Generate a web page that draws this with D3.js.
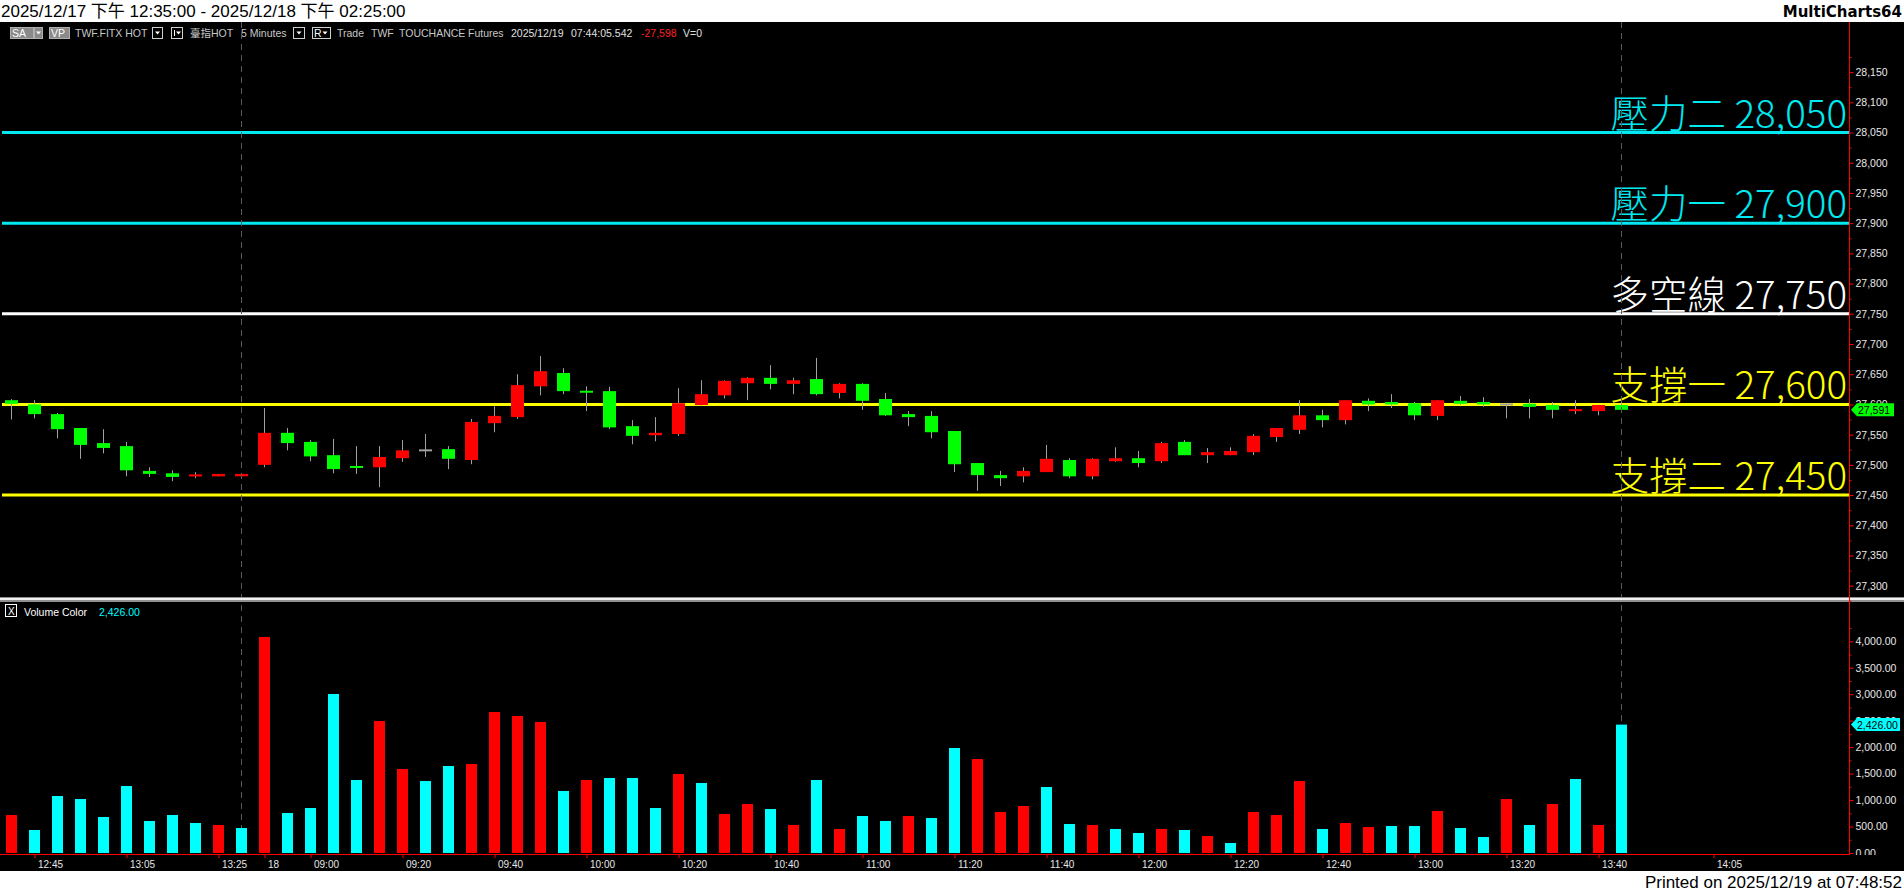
<!DOCTYPE html>
<html>
<head>
<meta charset="utf-8">
<script src="https://cdn.jsdelivr.net/npm/d3@7"></script>
<style>
  body { margin: 0; background: #fff; }
  svg { display: block; }
</style>
</head>
<body>
<svg width="1904" height="892"></svg>
<script>
// Step 1 (5 minute bars, 12/17 then 12/18)
var times = ["12:40","12:45","12:50","12:55","13:00","13:05","13:10","13:15","13:20","13:25","13:30",
  "08:50","08:55","09:00","09:05","09:10","09:15","09:20","09:25","09:30","09:35","09:40","09:45","09:50","09:55",
  "10:00","10:05","10:10","10:15","10:20","10:25","10:30","10:35","10:40","10:45","10:50","10:55",
  "11:00","11:05","11:10","11:15","11:20","11:25","11:30","11:35","11:40","11:45","11:50","11:55",
  "12:00","12:05","12:10","12:15","12:20","12:25","12:30","12:35","12:40","12:45","12:50","12:55",
  "13:00","13:05","13:10","13:15","13:20","13:25","13:30","13:35","13:40","13:45"];

var open = [27607,27600,27584,27561,27536,27531,27490,27486,27481,27481,27481,
  27500,27553,27538,27516,27498,27496,27511,27524,27526,27508,27569,27579,27630,27652,
  27622,27622,27564,27549,27551,27599,27615,27635,27644,27634,27642,27619,
  27634,27609,27584,27581,27556,27503,27483,27481,27488,27508,27481,27506,
  27511,27506,27538,27516,27516,27521,27546,27558,27582,27574,27606,27604,
  27602,27581,27606,27604,27600,27601,27599,27589,27589,27599];
var high = [27609,27607,27586,27561,27559,27538,27496,27491,27488,27485,27485,
  27594,27561,27541,27543,27531,27531,27541,27551,27531,27576,27597,27650,27680,27660,
  27630,27629,27574,27579,27627,27640,27640,27645,27665,27644,27677,27635,
  27635,27619,27589,27589,27556,27503,27490,27496,27533,27511,27511,27529,
  27523,27538,27541,27528,27529,27551,27561,27607,27591,27607,27610,27617,
  27604,27607,27614,27612,27601,27609,27604,27607,27600,27605];
var low = [27575,27577,27544,27510,27519,27481,27480,27473,27478,27481,27481,
  27496,27524,27506,27486,27485,27463,27505,27513,27493,27501,27554,27576,27615,27617,
  27589,27559,27534,27539,27548,27597,27610,27607,27625,27617,27615,27610,
  27591,27581,27564,27544,27488,27457,27465,27471,27488,27478,27476,27505,
  27496,27503,27516,27503,27516,27516,27538,27551,27562,27567,27589,27594,
  27574,27574,27599,27596,27577,27577,27577,27584,27582,27590];
var close = [27601,27584,27559,27533,27528,27491,27485,27480,27484,27485,27485,
  27553,27536,27514,27493,27495,27513,27524,27524,27510,27571,27581,27632,27655,27622,
  27620,27562,27548,27553,27602,27617,27639,27644,27634,27640,27617,27634,
  27606,27582,27579,27554,27501,27483,27478,27490,27510,27481,27510,27511,
  27503,27536,27516,27521,27523,27548,27561,27582,27574,27607,27600,27600,
  27582,27607,27601,27600,27600,27596,27591,27592,27599,27591];

var volume = [718,435,1077,1020,680,1266,605,718,567,529,472,
  4082,756,850,3004,1379,2494,1587,1360,1644,1682,2664,2589,2476,1172,
  1379,1417,1417,850,1493,1323,737,926,831,529,1379,454,
  699,605,699,661,1984,1776,775,888,1247,548,529,454,
  378,454,435,321,189,775,718,1360,454,567,491,510,
  510,794,472,302,1020,529,926,1398,529,2426];
// 1 = red (up volume), 0 = cyan
var volUp = [1,0,0,0,0,0,0,0,0,1,0,
  1,0,0,0,0,1,1,0,0,1,1,1,1,0,
  1,0,0,0,1,0,1,1,0,1,0,1,
  0,0,1,0,0,1,1,1,0,0,1,0,
  0,1,0,1,0,1,1,1,0,1,1,0,
  0,1,0,0,1,0,1,0,1,0];

var levelNames = ["壓力二", "壓力一", "多空線", "支撐一", "支撐二"];
var levelValues = [28050, 27900, 27750, 27600, 27450];
var levelColors = ["#00e8f0", "#00e8f0", "#ffffff", "#ffff00", "#ffff00"];

var xTickIdx = [1,5,9,11,13,17,21,25,29,33,37,41,45,49,53,57,61,65,69,74];
var xTickLabels = ["12:45","13:05","13:25","18","09:00","09:20","09:40","10:00","10:20","10:40",
  "11:00","11:20","11:40","12:00","12:20","12:40","13:00","13:20","13:40","14:05"];
var priceTicks = d3.range(27300, 28151, 50);
var volTicks = d3.range(0, 4001, 500);
var lastPrice = 27591;
var lastVolume = 2426;

// Step 2 - layout
var svg = d3.select("svg");
var W = 1904, H = 892;
var axisX = 1849.5;
var chartTop = 22, priceBottom = 597, volTop = 602, volBottom = 854, blackBottom = 871;

svg.append("rect").attr("width", W).attr("height", H).attr("fill", "#fff");
svg.append("rect").attr("x", 0).attr("y", chartTop).attr("width", W).attr("height", blackBottom - chartTop).attr("fill", "#000");

// Step 3 - scales
var x = d3.scaleLinear().domain([0, 1]).range([11.5, 34.5]);
var yP = d3.scaleLinear().domain([27300, 28150]).range([585.7, 72.1]);
var yV = d3.scaleLinear().domain([0, 4000]).range([853, 641.3]);

var defs = svg.append("defs");
defs.append("clipPath").attr("id", "clipP").append("rect")
  .attr("x", 0).attr("y", chartTop).attr("width", axisX).attr("height", priceBottom - chartTop);
defs.append("clipPath").attr("id", "clipV").append("rect")
  .attr("x", 0).attr("y", volTop).attr("width", axisX).attr("height", volBottom - volTop);
// used inside the translated axis group, so x is local
defs.append("clipPath").attr("id", "clipVA").append("rect")
  .attr("x", -1).attr("y", volTop).attr("width", 60).attr("height", volBottom - volTop + 1);

// Step 4 - header texts
svg.append("text").attr("x", 1).attr("y", 17)
  .style("font-family", "Liberation Sans, Noto Sans CJK TC").style("font-size", "17px")
  .attr("fill", "#000")
  .text("2025/12/17 下午 12:35:00 - 2025/12/18 下午 02:25:00");
svg.append("text").attr("x", 1902).attr("y", 17).attr("text-anchor", "end")
  .style("font-family", "DejaVu Sans").style("font-size", "15px").style("font-weight", "bold")
  .attr("fill", "#000").text("MultiCharts64");
svg.append("text").attr("x", 1902).attr("y", 888).attr("text-anchor", "end")
  .style("font-family", "Liberation Sans").style("font-size", "17px")
  .attr("fill", "#000").text("Printed on 2025/12/19 at 07:48:52");

// toolbar
var tb = svg.append("g").style("font-family", "Liberation Sans, Noto Sans CJK TC").style("font-size", "10.5px");
function box(x0, w, fill, stroke) {
  tb.append("rect").attr("x", x0 + 0.5).attr("y", 27.5).attr("width", w).attr("height", 11)
    .attr("fill", fill).attr("stroke", stroke);
}
function arrow(cx) {
  tb.append("path").attr("d", "M" + (cx - 2.5) + ",31.5 L" + (cx + 2.5) + ",31.5 L" + cx + ",34.5 Z").attr("fill", "#fff");
}
box(10, 23, "#8a8a8a", "#b0b0b0"); box(34, 8, "#8a8a8a", "#b0b0b0"); arrow(38.5);
box(49, 20, "#8a8a8a", "#b0b0b0");
box(152, 10, "#000", "#d0d0d0"); arrow(157.5);
box(171, 11, "#000", "#d0d0d0");
tb.append("line").attr("x1", 174.5).attr("x2", 174.5).attr("y1", 30).attr("y2", 36).attr("stroke", "#fff");
arrow(178.5);
box(293, 11, "#000", "#d0d0d0"); arrow(299);
box(312, 18, "#000", "#d0d0d0"); arrow(325);
var tbText = [
  [12, "SA", "#fff"], [51, "VP", "#fff"], [75, "TWF.FITX HOT", "#c8c8c8"], [190, "臺指HOT", "#c8c8c8"],
  [241, "5 Minutes", "#c8c8c8"], [314, "R", "#fff"], [337, "Trade", "#c8c8c8"], [371, "TWF", "#c8c8c8"],
  [399, "TOUCHANCE", "#c8c8c8"], [468, "Futures", "#c8c8c8"], [511, "2025/12/19", "#e0e0e0"],
  [571, "07:44:05.542", "#e0e0e0"], [641, "-27,598", "#ff2020"], [683, "V=0", "#e0e0e0"]];
tbText.forEach(function (t) {
  tb.append("text").attr("x", t[0]).attr("y", 37).attr("fill", t[2]).text(t[1]);
});

// Step 5 - price pane
var gP = svg.append("g").attr("clip-path", "url(#clipP)");

levelValues.forEach(function (v, i) {
  gP.append("line").attr("x1", 2).attr("x2", axisX).attr("y1", yP(v)).attr("y2", yP(v))
    .attr("stroke", levelColors[i]).attr("stroke-width", 3);
  gP.append("text").attr("x", 1847).attr("y", yP(v) - 5).attr("text-anchor", "end")
    .style("font-family", "Noto Sans CJK TC").style("font-size", "38.5px").style("font-weight", "300")
    .attr("fill", levelColors[i]).text(levelNames[i] + " " + d3.format(",")(v));
});

// session / current bar markers
[10, 70].forEach(function (i) {
  svg.append("line").attr("x1", x(i)).attr("x2", x(i)).attr("y1", chartTop).attr("y2", volBottom)
    .attr("stroke", "#5a5a5a").attr("stroke-dasharray", "6,5");
});

// candles
var candles = gP.append("g").selectAll("g").data(times).enter().append("g");
candles.append("line")
  .attr("x1", function (d, i) { return x(i); }).attr("x2", function (d, i) { return x(i); })
  .attr("y1", function (d, i) { return yP(high[i]); }).attr("y2", function (d, i) { return yP(low[i]); })
  .attr("stroke", "#a0a0a0");
candles.append("rect")
  .attr("x", function (d, i) { return x(i) - 6.5; })
  .attr("width", 13)
  .attr("y", function (d, i) {
    var t = yP(Math.max(open[i], close[i])), b = yP(Math.min(open[i], close[i]));
    return b - t < 2 ? (t + b) / 2 - 1 : t;
  })
  .attr("height", function (d, i) { return Math.max(yP(Math.min(open[i], close[i])) - yP(Math.max(open[i], close[i])), 2); })
  .attr("fill", function (d, i) {
    if (close[i] > open[i]) return "#ff0000";
    if (close[i] < open[i]) return "#00ff00";
    return "#a0a0a0";
  });

// separator between panes
svg.append("rect").attr("x", 0).attr("y", 597).attr("width", W).attr("height", 5).attr("fill", "#909090");
svg.append("rect").attr("x", 0).attr("y", 598).attr("width", W).attr("height", 2).attr("fill", "#f0f0f0");

// Step 6 - volume pane
var gV = svg.append("g").attr("clip-path", "url(#clipV)");
gV.selectAll("rect").data(volume).enter().append("rect")
  .attr("x", function (d, i) { return x(i) - 5.5; })
  .attr("width", 11)
  .attr("y", function (d) { return yV(d); })
  .attr("height", function (d) { return yV(0) - yV(d); })
  .attr("fill", function (d, i) { return volUp[i] ? "#ff0000" : "#00ffff"; });

svg.append("rect").attr("x", 5.5).attr("y", 604.5).attr("width", 11).attr("height", 12)
  .attr("fill", "none").attr("stroke", "#fff");
svg.append("text").attr("x", 8).attr("y", 614.5).attr("fill", "#fff")
  .style("font-family", "Liberation Sans").style("font-size", "10px").text("X");
svg.append("text").attr("x", 24).attr("y", 615.5).attr("fill", "#fff")
  .style("font-family", "Liberation Sans").style("font-size", "10.5px").text("Volume Color");
svg.append("text").attr("x", 99).attr("y", 615.5).attr("fill", "#00ffff")
  .style("font-family", "Liberation Sans").style("font-size", "10.5px").text(d3.format(",.2f")(lastVolume));

// Step 7 - axes
function styleAxis(g) {
  g.select(".domain").remove();
  g.selectAll(".tick line").attr("stroke", "#ff0000");
  g.selectAll(".tick text").attr("fill", "#e8e8e8")
    .style("font-family", "Liberation Sans").style("font-size", "10.5px");
}
svg.append("g").attr("transform", "translate(" + axisX + ",0)")
  .call(d3.axisRight(yP).tickValues(priceTicks).tickFormat(d3.format(",")).tickSize(4).tickPadding(2))
  .call(styleAxis);
svg.append("g").attr("transform", "translate(" + axisX + ",0)")
  .call(d3.axisRight(yP).tickValues(priceTicks.map(function (v) { return v + 25; }).concat([27275])).tickFormat("").tickSize(2))
  .call(styleAxis);
svg.append("g").attr("transform", "translate(" + axisX + ",0)").attr("clip-path", "url(#clipVA)")
  .call(d3.axisRight(yV).tickValues(volTicks).tickFormat(d3.format(",.2f")).tickSize(4).tickPadding(2))
  .call(styleAxis);
svg.append("g").attr("transform", "translate(" + axisX + ",0)")
  .call(d3.axisRight(yV).tickValues(volTicks.map(function (v) { return v + 250; })).tickFormat("").tickSize(2))
  .call(styleAxis);

svg.append("line").attr("x1", axisX).attr("x2", axisX).attr("y1", chartTop).attr("y2", volBottom + 1)
  .attr("stroke", "#ff0000");
svg.append("line").attr("x1", 0).attr("x2", axisX).attr("y1", volBottom + 0.5).attr("y2", volBottom + 0.5)
  .attr("stroke", "#ff0000");

var xAxis = svg.append("g").attr("transform", "translate(0," + (volBottom + 1) + ")")
  .call(d3.axisBottom(x).tickValues(xTickIdx)
    .tickFormat(function (d) { return xTickLabels[xTickIdx.indexOf(d)]; }).tickSize(3).tickPadding(3))
  .call(styleAxis);
xAxis.selectAll(".tick text").attr("text-anchor", "start").attr("dx", 3).style("font-size", "10px");

// Step 8 - last value flags
var yl = yP(lastPrice);
svg.append("path").attr("d", "M1851," + yl + " L1857," + (yl - 6.5) + " L1894," + (yl - 6.5) + " L1894," + (yl + 6.5) + " L1857," + (yl + 6.5) + " Z")
  .attr("fill", "#00ff00");
svg.append("text").attr("x", 1858).attr("y", yl + 4).attr("fill", "#000")
  .style("font-family", "Liberation Sans").style("font-size", "10.5px").text(d3.format(",")(lastPrice));
var yv = yV(lastVolume);
svg.append("path").attr("d", "M1851," + yv + " L1857," + (yv - 6.5) + " L1900," + (yv - 6.5) + " L1900," + (yv + 6.5) + " L1857," + (yv + 6.5) + " Z")
  .attr("fill", "#00ffff");
svg.append("text").attr("x", 1857).attr("y", yv + 4).attr("fill", "#000")
  .style("font-family", "Liberation Sans").style("font-size", "10.5px").text(d3.format(",.2f")(lastVolume));
</script>
</body>
</html>
